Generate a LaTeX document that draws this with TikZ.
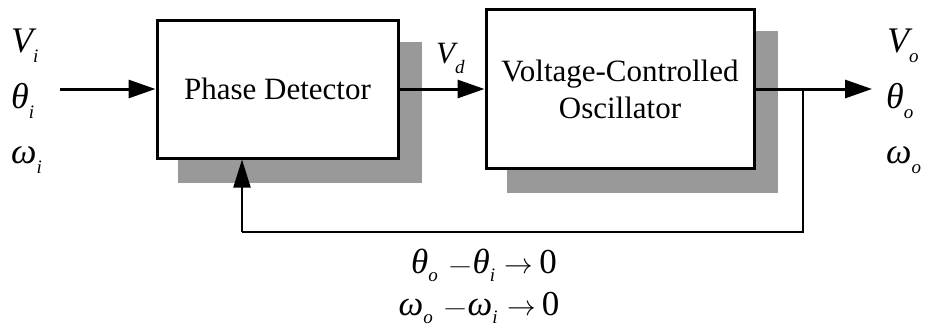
\documentclass[tikz,border=0pt]{standalone}
\usepackage{fontspec}
\setmainfont{Liberation Serif}
\usetikzlibrary{arrows.meta,backgrounds}
\newcommand{\lowsub}[1]{\raisebox{-10pt}{\fontsize{19}{19}\selectfont\itshape #1}}
\newcommand{\eqsub}[1]{\raisebox{-8pt}{\fontsize{19}{19}\selectfont\itshape #1}}
\begin{document}
\begin{tikzpicture}[x=1pt,y=-1pt,
  blockbox/.style={draw, line width=3pt, fill=white, inner sep=0pt,
    font=\fontsize{31}{37}\selectfont, align=center},
  shadowbox/.style={fill=black!40, draw=none},
  sig/.style={line width=3pt, -{Triangle[length=27pt,width=18pt]}},
  fb/.style={line width=2pt},
  lbl/.style={font=\fontsize{36}{38}\selectfont\itshape, inner sep=0pt, anchor=base west},
  eqlbl/.style={font=\fontsize{35}{38}\selectfont, inner sep=0pt, anchor=base},
]
\useasboundingbox (0,0) rectangle (926,330);

\node[blockbox, minimum width=241pt, minimum height=138pt] (pd) at (277.5,89) {Phase Detector};
\node[blockbox, minimum width=268pt, minimum height=159pt] (vco) at (620,89) {Voltage-Controlled\\Oscillator};

\begin{scope}[on background layer]
  \fill[shadowbox] ([shift={(22,23)}]pd.south west) rectangle ([shift={(22,23)}]pd.north east);
  \fill[shadowbox] ([shift={(22,23)}]vco.south west) rectangle ([shift={(22,23)}]vco.north east);
\end{scope}

\coordinate (in) at (60,89);
\coordinate (out) at (872,89);
\coordinate (tap) at (803,89);
\coordinate (fbr) at (803,232);
\coordinate (fbl) at (242,232);

\draw[sig] (in) -- (pd.west);
\draw[sig] (pd.east) -- (vco.west);
\draw[sig] (vco.east) -- (out);
\draw[fb] (tap) -- (fbr) -- (fbl);
\draw[fb, -{Triangle[length=28pt,width=17pt]}] (fbl) -- (fbl |- pd.south);

\node[lbl] (vi) at (11,52) {V\lowsub{i}};
\node[lbl] (thi) at (11,108) {θ\lowsub{i}};
\node[lbl] (omi) at (11,163) {ω\lowsub{i}};

\node[lbl] (vo) at (887,52) {V\lowsub{o}};
\node[lbl] (tho) at (886,108) {θ\lowsub{o}};
\node[lbl] (omo) at (886,163) {ω\lowsub{o}};

\node[lbl, font=\fontsize{31}{34}\selectfont\itshape] (vd) at (436,63) {V\lowsub{d}};

\node[eqlbl] (eq1) at (484,273) {\textit{θ}\eqsub{o}\;\scalebox{1.3}[1]{$-$}\textit{θ}\eqsub{i}\;\scalebox{1.15}{$\rightarrow$}\,0};
\node[eqlbl] (eq2) at (479,315) {\textit{ω}\eqsub{o}\;\scalebox{1.3}[1]{$-$}\textit{ω}\eqsub{i}\;\scalebox{1.15}{$\rightarrow$}\,0};
\end{tikzpicture}
\end{document}
